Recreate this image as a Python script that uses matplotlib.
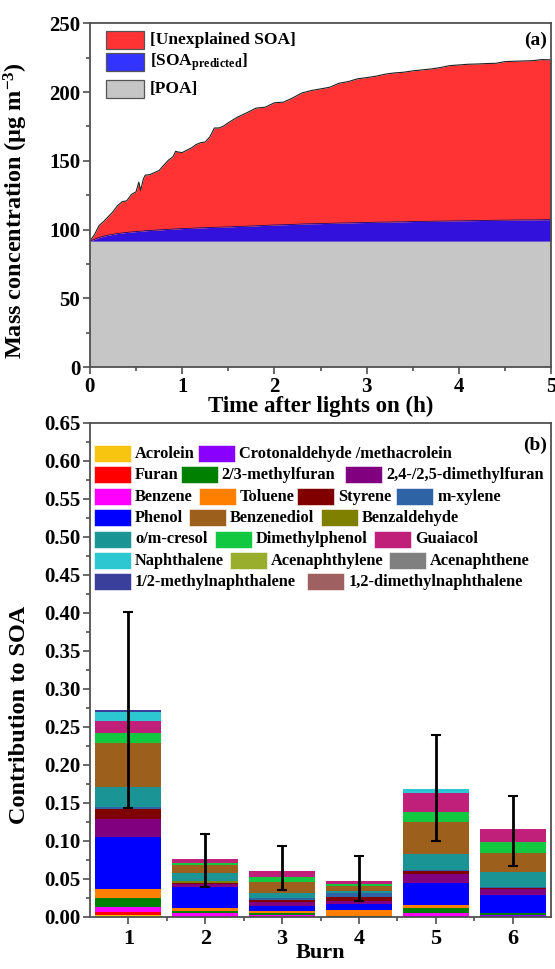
import matplotlib
matplotlib.use('Agg')
import matplotlib.pyplot as plt
from matplotlib.patches import Rectangle
import numpy as np

# ---- panel (a): time series (mass concentration, ug m-3) ----
time_h = [0.00, 0.05, 0.10, 0.15, 0.20, 0.25, 0.30, 0.35, 0.40, 0.45,
          0.50, 0.53, 0.55, 0.58, 0.60, 0.65, 0.70, 0.75, 0.80, 0.85,
          0.90, 0.93, 0.95, 1.00, 1.05, 1.10, 1.15, 1.20, 1.25, 1.30,
          1.35, 1.40, 1.45, 1.50, 1.60, 1.70, 1.80, 1.90, 2.00, 2.10,
          2.20, 2.30, 2.40, 2.50, 2.60, 2.70, 2.80, 2.90, 3.00, 3.10,
          3.20, 3.30, 3.40, 3.50, 3.60, 3.70, 3.80, 3.90, 4.00, 4.10,
          4.20, 4.30, 4.40, 4.50, 4.60, 4.70, 4.80, 4.90, 5.00]

total_oa = [91.7, 96.5, 103.0, 106.0, 109.5, 113.0, 117.5, 120.3, 121.0, 125.6,
            127.5, 134.5, 128.5, 137.0, 139.6, 140.0, 141.5, 143.0, 146.8, 150.4,
            152.9, 157.0, 156.5, 156.0, 157.7, 159.4, 161.8, 163.2, 163.7, 167.4,
            173.9, 173.9, 175.3, 177.7, 181.8, 184.9, 188.3, 189.0, 192.2, 192.7,
            195.8, 199.4, 201.1, 202.3, 203.5, 206.4, 207.6, 209.6, 210.5, 211.5,
            213.0, 213.9, 214.4, 215.4, 216.1, 216.8, 217.8, 219.2, 219.7, 220.2,
            220.4, 220.7, 220.9, 222.1, 222.4, 222.6, 222.8, 223.6, 223.4]

poa_plus_pred = [91.7, 93.0, 94.3, 95.3, 96.0, 96.6, 97.2, 97.6, 98.0, 98.3,
                 98.6, 98.7, 98.9, 99.0, 99.2, 99.4, 99.6, 99.8, 100.0, 100.2,
                 100.4, 100.5, 100.6, 100.8, 100.9, 101.0, 101.2, 101.3, 101.4, 101.6,
                 101.7, 101.8, 101.9, 102.0, 102.3, 102.5, 102.8, 103.1, 103.4, 103.6,
                 103.8, 104.1, 104.3, 104.4, 104.6, 104.8, 104.9, 105.1, 105.2, 105.4,
                 105.5, 105.6, 105.7, 105.9, 106.0, 106.1, 106.2, 106.3, 106.4, 106.5,
                 106.6, 106.7, 106.8, 106.9, 107.0, 107.1, 107.1, 107.2, 107.3]

poa_level = 91.7

# ---- panel (b): contribution of each precursor to SOA ----
burns = [1, 2, 3, 4, 5, 6]

species = ['Acrolein', 'Crotonaldehyde /methacrolein', 'Furan', '2/3-methylfuran',
           '2,4-/2,5-dimethylfuran', 'Benzene', 'Toluene', 'Styrene', 'm-xylene',
           'Phenol', 'Benzenediol', 'Benzaldehyde', 'o/m-cresol', 'Dimethylphenol',
           'Guaiacol', 'Naphthalene', 'Acenaphthylene', 'Acenaphthene',
           '1/2-methylnaphthalene', '1,2-dimethylnaphthalene']

species_colors = ['#F7C510', '#8A00FF', '#FF0000', '#008000', '#800080',
                  '#FF00FF', '#FF8000', '#800000', '#2E64A6', '#0000FF',
                  '#9C5F1C', '#808000', '#1A9494', '#12C840', '#C0207A',
                  '#2CC7D0', '#98AE2C', '#808080', '#3B3F9C', '#9E6060']

contrib = {
    'Acrolein':                     [0.0030, 0.0000, 0.0005, 0.0000, 0.0000, 0.0000],
    'Crotonaldehyde /methacrolein': [0.0000, 0.0000, 0.0000, 0.0000, 0.0018, 0.0020],
    'Furan':                        [0.0030, 0.0000, 0.0000, 0.0000, 0.0000, 0.0000],
    'Benzene':                      [0.0066, 0.0057, 0.0022, 0.0000, 0.0040, 0.0000],
    '2/3-methylfuran':              [0.0118, 0.0025, 0.0022, 0.0018, 0.0060, 0.0035],
    'Toluene':                      [0.0118, 0.0040, 0.0035, 0.0075, 0.0045, 0.0000],
    'Phenol':                       [0.0684, 0.0268, 0.0066, 0.0080, 0.0290, 0.0228],
    '2,4-/2,5-dimethylfuran':       [0.0241, 0.0044, 0.0044, 0.0035, 0.0110, 0.0079],
    'Styrene':                      [0.0140, 0.0018, 0.0030, 0.0053, 0.0044, 0.0022],
    'm-xylene':                     [0.0018, 0.0000, 0.0030, 0.0057, 0.0013, 0.0010],
    'Benzaldehyde':                 [0.0000, 0.0026, 0.0000, 0.0000, 0.0000, 0.0000],
    'o/m-cresol':                   [0.0259, 0.0101, 0.0057, 0.0018, 0.0206, 0.0197],
    'Benzenediol':                  [0.0583, 0.0101, 0.0149, 0.0075, 0.0417, 0.0250],
    'Dimethylphenol':               [0.0136, 0.0031, 0.0066, 0.0022, 0.0140, 0.0140],
    'Guaiacol':                     [0.0158, 0.0048, 0.0083, 0.0035, 0.0254, 0.0171],
    'Naphthalene':                  [0.0110, 0.0000, 0.0000, 0.0000, 0.0053, 0.0000],
    'Acenaphthylene':               [0.0000, 0.0000, 0.0000, 0.0000, 0.0000, 0.0000],
    'Acenaphthene':                 [0.0000, 0.0000, 0.0000, 0.0000, 0.0000, 0.0000],
    '1/2-methylnaphthalene':        [0.0026, 0.0000, 0.0000, 0.0000, 0.0000, 0.0000],
    '1,2-dimethylnaphthalene':      [0.0000, 0.0000, 0.0000, 0.0000, 0.0000, 0.0000],
}

err_low = [0.144, 0.040, 0.035, 0.021, 0.100, 0.067]
err_high = [0.401, 0.109, 0.093, 0.080, 0.239, 0.159]

plt.rcParams['font.family'] = ['Liberation Serif', 'DejaVu Serif']
plt.rcParams['font.weight'] = 'bold'
plt.rcParams['axes.labelweight'] = 'bold'
plt.rcParams['mathtext.fontset'] = 'custom'
plt.rcParams['mathtext.rm'] = 'Liberation Serif:bold'
plt.rcParams['mathtext.bf'] = 'Liberation Serif:bold'
plt.rcParams['mathtext.it'] = 'Liberation Serif:bold:italic'
plt.rcParams['mathtext.default'] = 'bf'

SPINE = '#505050'


def style_axes(ax):
    for s in ax.spines.values():
        s.set_color(SPINE)
        s.set_linewidth(1.3)
    ax.tick_params(which='both', direction='out', color=SPINE, width=1.2,
                   top=False, right=False)
    ax.tick_params(which='major', length=5)
    ax.tick_params(which='minor', length=3)


fig = plt.figure(figsize=(5.55, 9.69), dpi=100)

# ---------------- panel (a) ----------------
ax1 = fig.add_axes([0.162, 0.621, 0.831, 0.355])
t = np.array(time_h)
tot = np.array(total_oa)
pred = np.array(poa_plus_pred)
poa = np.full_like(t, poa_level)

ax1.fill_between(t, 0, poa, color='#C6C6C6', lw=0)
ax1.fill_between(t, poa, pred, color='#3311DD', lw=0)
ax1.fill_between(t, pred, tot, color='#FF3333', lw=0)
ax1.plot(t, tot, color='#202020', lw=0.8)
ax1.plot(t, pred, color='#1a0a70', lw=0.6)

ax1.set_xlim(0, 5)
ax1.set_ylim(0, 250)
ax1.set_xticks(range(0, 6))
ax1.set_xticks(np.arange(0.5, 5, 1), minor=True)
ax1.set_yticks(range(0, 251, 50))
ax1.set_yticks(range(25, 250, 50), minor=True)
style_axes(ax1)
ax1.tick_params(labelsize=15, pad=2)
ax1.set_xlabel('Time after lights on (h)', fontsize=16.5, labelpad=-1)
ax1.set_ylabel(r'Mass concentration (μg m$^{-3}$)', fontsize=17.5)
ax1.yaxis.set_label_coords(-0.13, 0.455)
ax1.text(0.991, 0.95, '(a)', transform=ax1.transAxes, ha='right', va='center',
         fontsize=14)

top_legend = [('[Unexplained SOA]', '#FF3333'),
              (r'[SOA$_{\mathrm{predicted}}$]', '#3333FF'),
              ('[POA]', '#C6C6C6')]
top_rows = [0.9506, 0.888, 0.8096]
for (lab, col), yc in zip(top_legend, top_rows):
    ax1.add_patch(Rectangle((0.035, yc - 0.026), 0.0824, 0.052,
                            transform=ax1.transAxes, facecolor=col,
                            edgecolor='#555555', lw=0.9, zorder=5))
    ax1.text(0.130, yc, lab, transform=ax1.transAxes, ha='left', va='center',
             fontsize=12.5, zorder=5)

# ---------------- panel (b) ----------------
ax2 = fig.add_axes([0.162, 0.0537, 0.831, 0.5098])
stack_order = ['Acrolein', 'Crotonaldehyde /methacrolein', 'Furan', 'Benzene',
               '2/3-methylfuran', 'Toluene', 'Phenol', '2,4-/2,5-dimethylfuran',
               'Styrene', 'm-xylene', 'Benzaldehyde', 'o/m-cresol', 'Benzenediol',
               'Dimethylphenol', 'Guaiacol', 'Naphthalene', 'Acenaphthylene',
               'Acenaphthene', '1/2-methylnaphthalene', '1,2-dimethylnaphthalene']
color_of = dict(zip(species, species_colors))

bottom = np.zeros(len(burns))
for name in stack_order:
    vals = np.array(contrib[name])
    ax2.bar(burns, vals, width=0.86, bottom=bottom, color=color_of[name],
            edgecolor='none', zorder=2)
    bottom += vals

totals = bottom
ax2.errorbar(burns, totals,
             yerr=[totals - np.array(err_low), np.array(err_high) - totals],
             fmt='none', ecolor='black', elinewidth=2, capsize=3.5,
             capthick=1.5, zorder=4)

ax2.set_xlim(0.5, 6.5)
ax2.set_ylim(0, 0.65)
ax2.set_xticks(burns)
ax2.set_xticks(np.arange(1.5, 6.5, 1), minor=True)
ax2.set_yticks(np.arange(0, 0.651, 0.05))
ax2.set_yticks(np.arange(0.025, 0.65, 0.05), minor=True)
ax2.yaxis.set_major_formatter(matplotlib.ticker.FormatStrFormatter('%.2f'))
style_axes(ax2)
ax2.tick_params(axis='y', labelsize=15, pad=2)
ax2.tick_params(axis='x', labelsize=16, pad=4)
ax2.set_xlabel('Burn', fontsize=16, labelpad=-5)
ax2.set_ylabel('Contribution to SOA', fontsize=17.5)
ax2.yaxis.set_label_coords(-0.13, 0.41)
ax2.text(0.991, 0.955, '(b)', transform=ax2.transAxes, ha='right', va='center',
         fontsize=14)

# custom flow legend (rows of species, patch left edge in axes fraction)
legend_rows = [
    [('Acrolein', 0.009), ('Crotonaldehyde /methacrolein', 0.234)],
    [('Furan', 0.009), ('2/3-methylfuran', 0.197), ('2,4-/2,5-dimethylfuran', 0.553)],
    [('Benzene', 0.009), ('Toluene', 0.236), ('Styrene', 0.449), ('m-xylene', 0.664)],
    [('Phenol', 0.009), ('Benzenediol', 0.215), ('Benzaldehyde', 0.501)],
    [('o/m-cresol', 0.009), ('Dimethylphenol', 0.271), ('Guaiacol', 0.616)],
    [('Naphthalene', 0.009), ('Acenaphthylene', 0.304), ('Acenaphthene', 0.649)],
    [('1/2-methylnaphthalene', 0.009), ('1,2-dimethylnaphthalene', 0.471)],
]
row_y = [0.938, 0.895, 0.851, 0.808, 0.765, 0.721, 0.679]
for row, yc in zip(legend_rows, row_y):
    for name, x0 in row:
        ax2.add_patch(Rectangle((x0, yc - 0.0172), 0.080, 0.0344,
                                transform=ax2.transAxes,
                                facecolor=color_of[name], edgecolor='white',
                                lw=0.4, zorder=5))
        ax2.text(x0 + 0.089, yc, name, transform=ax2.transAxes, ha='left',
                 va='center', fontsize=11.8, zorder=5)

fig.savefig('out.png', dpi=100)
